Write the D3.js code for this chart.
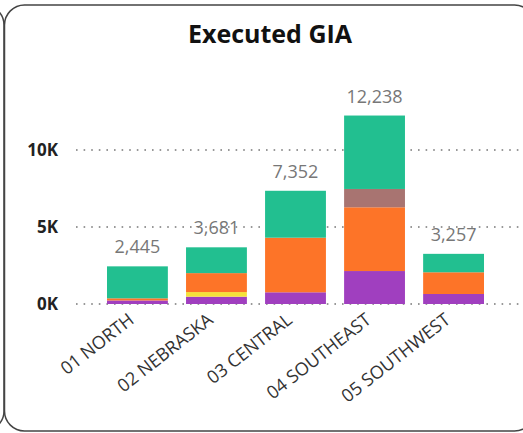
<!DOCTYPE html>
<html>
<head>
<meta charset="utf-8">
<script src="https://cdn.jsdelivr.net/npm/d3@7"></script>
<style>
  body { margin: 0; background: #fff; }
  svg { display: block; font-family: "Open Sans", "Noto Sans", sans-serif; }
</style>
</head>
<body>
<div id="chart"></div>
<script>
const regions = ["01 NORTH", "02 NEBRASKA", "03 CENTRAL", "04 SOUTHEAST", "05 SOUTHWEST"];
const seriesNames = ["purple", "yellow", "orange", "brown", "teal"];
const purpleVals = [230, 475, 760, 2140, 650];
const yellowVals = [0, 300, 0, 0, 0];
const orangeVals = [140, 1230, 3545, 4140, 1410];
const brownVals = [0, 0, 0, 1190, 0];
const tealVals = [2075, 1676, 3047, 4768, 1197];
const totals = [2445, 3681, 7352, 12238, 3257];
const yTicks = [0, 5000, 10000];
const colors = ["#a03fbf", "#f5e23a", "#fd7428", "#a87471", "#22bf90"];

const width = 523, height = 433;

const svg = d3.select("#chart").append("svg")
    .attr("width", width)
    .attr("height", height);

// panel borders (neighbour panel on the left, then this one)
svg.append("rect")
    .attr("x", -520).attr("y", 5)
    .attr("width", 524).attr("height", 426)
    .attr("rx", 20)
    .attr("fill", "none").attr("stroke", "#444").attr("stroke-width", 1.5);
svg.append("rect")
    .attr("x", 4.5).attr("y", 5)
    .attr("width", 530).attr("height", 426)
    .attr("rx", 20)
    .attr("fill", "#fff").attr("stroke", "#444").attr("stroke-width", 1.5);

svg.append("text")
    .attr("x", 270).attr("y", 43)
    .attr("text-anchor", "middle")
    .style("font-size", "25px")
    .style("font-weight", "bold")
    .style("fill", "#111")
    .text("Executed GIA");

const x = d3.scaleBand()
    .domain(regions)
    .range([107, 484])
    .paddingInner(0.23)
    .paddingOuter(0);

const y = d3.scaleLinear()
    .domain([0, 10000])
    .range([304, 150]);

// gridlines
svg.append("g")
    .selectAll("line")
    .data(yTicks)
    .enter().append("line")
    .attr("x1", 76).attr("x2", 523)
    .attr("y1", d => y(d)).attr("y2", d => y(d))
    .attr("stroke", "#777")
    .attr("stroke-width", 1.6)
    .attr("stroke-dasharray", "1.6,6");

svg.append("g")
    .selectAll("text")
    .data(yTicks)
    .enter().append("text")
    .attr("x", 58)
    .attr("y", d => y(d))
    .attr("dy", "0.35em")
    .attr("text-anchor", "end")
    .style("font-size", "17px")
    .style("font-weight", "bold")
    .style("fill", "#222")
    .text(d => (d / 1000) + "K");

const table = regions.map((r, i) => ({
    region: r,
    purple: purpleVals[i],
    yellow: yellowVals[i],
    orange: orangeVals[i],
    brown: brownVals[i],
    teal: tealVals[i]
}));

const stack = d3.stack().keys(seriesNames);
const layers = stack(table);

svg.append("g")
    .selectAll("g")
    .data(layers)
    .enter().append("g")
    .attr("fill", (d, i) => colors[i])
    .selectAll("rect")
    .data(d => d)
    .enter().append("rect")
    .attr("x", d => x(d.data.region))
    .attr("width", x.bandwidth())
    .attr("y", d => y(d[1]))
    .attr("height", d => y(d[0]) - y(d[1]));

svg.append("g")
    .selectAll("text")
    .data(regions)
    .enter().append("text")
    .attr("x", d => x(d) + x.bandwidth() / 2)
    .attr("y", (d, i) => y(totals[i]) - 13)
    .attr("text-anchor", "middle")
    .style("font-size", "18px")
    .style("fill", "#777")
    .text((d, i) => d3.format(",")(totals[i]));

svg.append("g")
    .selectAll("text")
    .data(regions)
    .enter().append("text")
    .attr("transform", d => `translate(${x(d) + x.bandwidth() / 2 - 6},${317}) rotate(-38)`)
    .attr("text-anchor", "end")
    .attr("dy", "0.35em")
    .style("font-size", "18px")
    .style("fill", "#333")
    .text(d => d);
</script>
</body>
</html>
